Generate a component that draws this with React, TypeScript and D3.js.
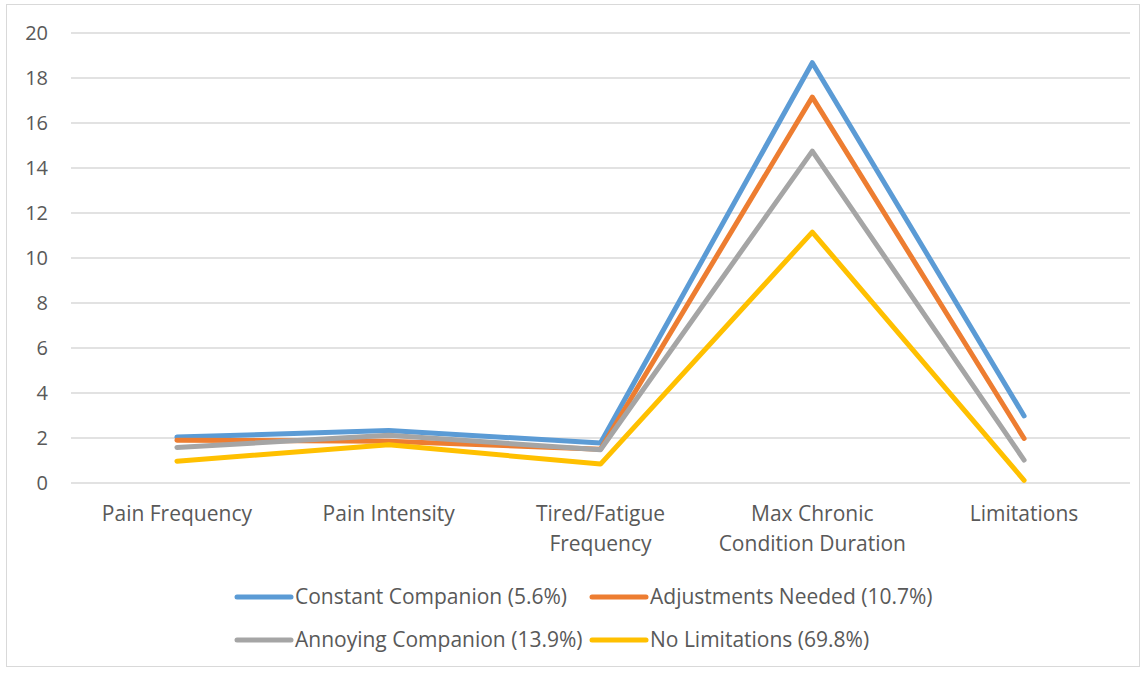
import React from "react";
import * as d3 from "d3";

const categories: string[][] = [
  ["Pain Frequency"],
  ["Pain Intensity"],
  ["Tired/Fatigue", "Frequency"],
  ["Max Chronic", "Condition Duration"],
  ["Limitations"],
];

const seriesNames = [
  "Constant Companion (5.6%)",
  "Adjustments Needed (10.7%)",
  "Annoying Companion (13.9%)",
  "No Limitations (69.8%)",
];

const constantCompanion = [2.04, 2.33, 1.78, 18.68, 2.98];
const adjustmentsNeeded = [1.9, 1.86, 1.5, 17.15, 1.98];
const annoyingCompanion = [1.58, 2.12, 1.48, 14.75, 1.02];
const noLimitations = [0.97, 1.7, 0.84, 11.15, 0.12];

const seriesColors = ["#5b9bd5", "#ed7d31", "#a5a5a5", "#ffc000"];
const yTicks = [0, 2, 4, 6, 8, 10, 12, 14, 16, 18, 20];

const W = 1145;
const H = 673;
const FONT = "'Open Sans', Lato, sans-serif";
const FS = 21;

export default function App() {
  const series = [constantCompanion, adjustmentsNeeded, annoyingCompanion, noLimitations];
  const left = 71;
  const right = 1130;
  const top = 33;
  const bottom = 483;

  const x = d3
    .scaleBand<number>()
    .domain(categories.map((_, i) => i))
    .range([left, right]);
  const y = d3.scaleLinear().domain([0, 20]).range([bottom, top]);
  const cx = (i: number) => (x(i) as number) + x.bandwidth() / 2;

  const line = d3
    .line<number>()
    .x((_, i) => cx(i))
    .y((d) => y(d));

  const legendItems = [
    { row: 0, lx: 237, idx: 0 },
    { row: 0, lx: 592, idx: 1 },
    { row: 1, lx: 237, idx: 2 },
    { row: 1, lx: 592, idx: 3 },
  ];

  return (
    <svg
      width={W}
      height={H}
      style={{ position: "absolute", left: 0, top: 0, background: "#fff" }}
      fontFamily={FONT}
    >
      <rect x={6.5} y={4.5} width={1133} height={662} fill="#fff" stroke="#d9d9d9" />
      {yTicks.map((t) => (
        <g key={t}>
          <line x1={left} x2={right} y1={y(t)} y2={y(t)} stroke="#d9d9d9" strokeWidth={1.5} />
          <text x={48} y={y(t)} dy="0.35em" textAnchor="end" fontSize={20} fill="#595959">
            {t}
          </text>
        </g>
      ))}
      {categories.map((lines, i) => (
        <text key={i} x={cx(i)} y={521} textAnchor="middle" fontSize={FS} fill="#595959">
          {lines.map((l, k) => (
            <tspan key={k} x={cx(i)} dy={k === 0 ? 0 : 30}>
              {l}
            </tspan>
          ))}
        </text>
      ))}
      {series.map((s, k) => (
        <path
          key={k}
          d={line(s) as string}
          fill="none"
          stroke={seriesColors[k]}
          strokeWidth={5}
          strokeLinejoin="round"
          strokeLinecap="round"
        />
      ))}
      {legendItems.map(({ row, lx, idx }) => {
        const ly = 597 + row * 43;
        return (
          <g key={idx}>
            <line
              x1={lx}
              x2={lx + 54}
              y1={ly}
              y2={ly}
              stroke={seriesColors[idx]}
              strokeWidth={5}
              strokeLinecap="round"
            />
            <text x={lx + 58} y={ly} dy="0.35em" fontSize={FS} fill="#595959">
              {seriesNames[idx]}
            </text>
          </g>
        );
      })}
    </svg>
  );
}
